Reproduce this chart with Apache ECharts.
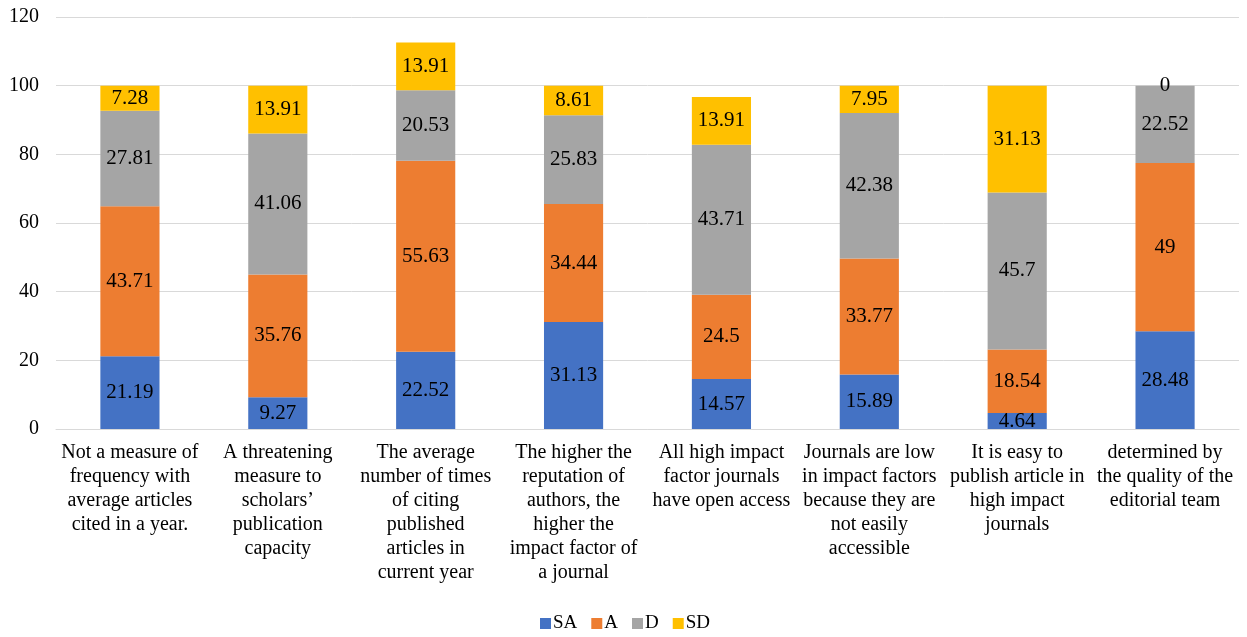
<!DOCTYPE html>
<html>
<head>
<meta charset="utf-8">
<script src="https://cdn.jsdelivr.net/npm/echarts@6/dist/echarts.min.js"></script>
<style>
  html, body { margin: 0; padding: 0; background: #fff; }
  #chart { width: 1247px; height: 637px; }
</style>
</head>
<body>
<div id="chart"></div>
<script>
// Survey statements on journal impact factor
const categories = [
  'Not a measure of\nfrequency with\naverage articles\ncited in a year.',
  'A threatening\nmeasure to\nscholars\u2019\npublication\ncapacity',
  'The average\nnumber of times\nof citing\npublished\narticles in\ncurrent year',
  'The higher the\nreputation of\nauthors, the\nhigher the\nimpact factor of\na journal',
  'All high impact\nfactor journals\nhave open access',
  'Journals are low\nin impact factors\nbecause they are\nnot easily\naccessible',
  'It is easy to\npublish article in\nhigh impact\njournals',
  'determined by\nthe quality of the\neditorial team'
];

// Response shares per statement
const seriesNames = ['SA', 'A', 'D', 'SD'];
const saValues = [21.19, 9.27, 22.52, 31.13, 14.57, 15.89, 4.64, 28.48];
const aValues  = [43.71, 35.76, 55.63, 34.44, 24.5, 33.77, 18.54, 49];
const dValues  = [27.81, 41.06, 20.53, 25.83, 43.71, 42.38, 45.7, 22.52];
const sdValues = [7.28, 13.91, 13.91, 8.61, 13.91, 7.95, 31.13, 0];

const yTicks = { min: 0, max: 120, interval: 20 };

const colors = ['#4472C4', '#ED7D31', '#A5A5A5', '#FFC000'];
const font = '"Liberation Serif", "Times New Roman", serif';

const valueSets = [saValues, aValues, dValues, sdValues];

const chart = echarts.init(document.getElementById('chart'), null, { renderer: 'canvas' });

chart.setOption({
  animation: false,
  textStyle: { fontFamily: font },
  grid: { left: 56, right: 8, top: 17, bottom: 208, containLabel: false },
  legend: {
    top: 614,
    left: 540,
    padding: 0,
    itemWidth: 11,
    itemHeight: 11,
    itemGap: 14,
    icon: 'rect',
    textStyle: { fontFamily: font, fontSize: 19, color: '#000', padding: [0, 0, 0, -3] },
    data: seriesNames
  },
  xAxis: {
    type: 'category',
    data: categories,
    axisTick: { show: false },
    axisLine: { lineStyle: { color: '#d9d9d9', width: 1 } },
    axisLabel: {
      interval: 0,
      margin: 12,
      color: '#000',
      fontFamily: font,
      fontSize: 20,
      lineHeight: 24
    }
  },
  yAxis: {
    type: 'value',
    min: yTicks.min,
    max: yTicks.max,
    interval: yTicks.interval,
    axisLine: { show: false },
    axisTick: { show: false },
    splitLine: { lineStyle: { color: '#d9d9d9', width: 1 } },
    axisLabel: { color: '#000', fontFamily: font, fontSize: 20, margin: 17 }
  },
  series: seriesNames.map((name, i) => ({
    name: name,
    type: 'bar',
    stack: 'total',
    barWidth: '40%',
    itemStyle: { color: colors[i] },
    label: {
      show: true,
      position: 'inside',
      color: '#000',
      fontFamily: font,
      fontSize: 21
    },
    data: valueSets[i]
  }))
});
</script>
</body>
</html>
